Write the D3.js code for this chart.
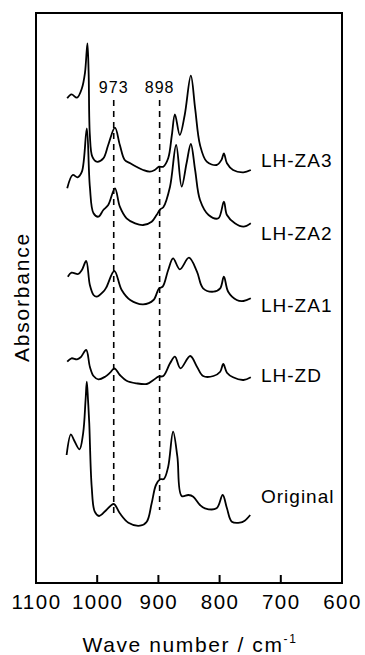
<!DOCTYPE html>
<html><head><meta charset="utf-8">
<script src="https://cdn.jsdelivr.net/npm/d3@7/dist/d3.min.js"></script>
<style>
html,body{margin:0;padding:0;background:#fff;}
svg{display:block;font-family:"Liberation Sans",Arial,Helvetica,sans-serif;}
</style></head>
<body><svg id="chart" width="365" height="655"></svg>
<script>
// x ticks (wave number, cm^-1)
const xTicks = [1100, 1000, 900, 800, 700, 600];
const markers = [973, 898];
const seriesNames = ["LH-ZA3", "LH-ZA2", "LH-ZA1", "LH-ZD", "Original"];
// [wave number, absorbance (arb. units, offset)]
const lhZA3 = [[1049,484.7],[1042,488.7],[1033,485.3],[1025,494.7],[1020,510],[1016,539.7],[1014,510],[1012,448],[1008,426.3],[1001,421.3],[990,424.7],[982,438],[971,455.3],[963,438],[955,423],[946,419.7],[936,416.3],[925,413],[914,411.3],[906,413],[899,416.3],[892,416.3],[884,424.7],[878,448],[873,468.7],[865,448],[857,468],[847,507.3],[840,474.7],[832,438],[821,421.3],[805,418],[797,423],[793,429.7],[788,419.7],[778,413],[761,410.7],[749,413]];
const lhZA2 = [[1049,394.7],[1040,408],[1032,405.7],[1025,411.3],[1017,454.7],[1012,396.3],[1006,369.7],[998,366.3],[990,373],[982,378],[971,394.7],[963,376.3],[952,364.7],[938,359.7],[925,358],[911,361.3],[903,368],[897,373.7],[892,375.7],[881,396.3],[871,438],[862,396.3],[854,419.7],[847,439],[840,413],[832,383],[818,368],[802,364.7],[793,381.3],[788,368],[775,359.7],[761,356.3],[749,359.7]];
const lhZA1 = [[1048,306.3],[1042,310.3],[1031,309],[1025,313],[1018,322],[1012,298],[1006,288],[1001,286.3],[990,291.3],[985,295.7],[972,312],[960,293],[946,283],[925,278.7],[908,283],[899,294.7],[893,296.3],[884,313],[876,324.7],[865,313.7],[850,325.3],[837,311.3],[827,294.7],[810,291.3],[799,294.7],[793,306.3],[786,291.3],[772,283],[761,282],[749,284.7]];
const lhZD = [[1049,221.3],[1042,224.7],[1033,223.7],[1027,225.7],[1018,233],[1012,216.3],[1006,207],[998,203.7],[987,206.3],[979,210.3],[972,214.7],[963,208],[952,202.3],[936,199.7],[919,199],[908,203],[900,206.3],[892,207],[881,219.7],[873,226.3],[864,214.7],[848,227],[837,216.3],[827,207],[810,207],[799,211.3],[794,219],[788,210.3],[778,205.7],[761,203],[749,205.7]];
const original = [[1050,128],[1043,148.7],[1038,143],[1029,133.7],[1023,149.7],[1019,183],[1017,201.3],[1015,183],[1013,160],[1009,96.3],[1004,71.3],[997,67],[985,73],[973,79],[963,69.7],[949,60.3],[930,57.3],[919,61.3],[911,79.7],[904,98],[897,103.7],[891,104],[884,116.3],[876,151.3],[869,126.3],[862,87],[851,88],[843,86.3],[832,78],[824,74.7],[805,74.7],[795,88],[788,74.7],[780,61.3],[767,60.3],[759,62.3],[750,68]];
const allSeries = [lhZA3, lhZA2, lhZA1, lhZD, original];
const labelLevels = [416, 343, 271, 201, 80];   // label baseline level (arb. units)
const markerLabelLevel = 490;
const markerTop = [483, 483];
const markerBottom = [65, 73];

const W = 365, H = 655;
const m = {left: 36, right: 23, top: 13, bottom: 72};
const svg = d3.select("#chart");
const x = d3.scaleLinear().domain([1100, 600]).range([m.left, W - m.right]);
const y = d3.scaleLinear().domain([0, 570]).range([H - m.bottom, m.top]);

// frame
svg.append("rect").attr("x", m.left).attr("y", m.top)
  .attr("width", W - m.left - m.right).attr("height", H - m.top - m.bottom)
  .attr("fill", "none").attr("stroke", "#000").attr("stroke-width", 2);

// x axis with inward ticks
const xAxis = d3.axisBottom(x).tickValues(xTicks).tickSize(0).tickFormat(d3.format("d"));
const gx = svg.append("g").attr("transform", `translate(0,${H - m.bottom})`).call(xAxis);
gx.select(".domain").remove();
gx.selectAll("text").attr("y", 0).attr("dy", "26px").attr("font-size", 20.5)
  .attr("letter-spacing", "1.5px").attr("fill", "#000")
  .attr("font-family", '"Liberation Sans",Arial,Helvetica,sans-serif');
svg.append("g").selectAll("line").data(xTicks.slice(1, -1)).join("line")
  .attr("x1", d => x(d)).attr("x2", d => x(d))
  .attr("y1", H - m.bottom).attr("y2", H - m.bottom - 8)
  .attr("stroke", "#000").attr("stroke-width", 2);

// axis titles
const xt = svg.append("text").attr("x", 190).attr("y", 652).attr("text-anchor", "middle")
  .attr("font-size", 21).attr("letter-spacing", "1.6px");
xt.append("tspan").text("Wave number / cm");
xt.append("tspan").attr("dy", -9).attr("font-size", 12).text("-1");
svg.append("text").attr("transform", "translate(29,297) rotate(-90)")
  .attr("text-anchor", "middle").attr("font-size", 21).attr("letter-spacing", "1.8px")
  .text("Absorbance");

// dashed marker lines
markers.forEach((mk, i) => {
  svg.append("line").attr("x1", x(mk)).attr("x2", x(mk))
    .attr("y1", y(markerTop[i])).attr("y2", y(markerBottom[i]))
    .attr("stroke", "#000").attr("stroke-width", 1.6).attr("stroke-dasharray", "6,5");
  svg.append("text").attr("x", x(mk)).attr("y", y(markerLabelLevel))
    .attr("text-anchor", "middle").attr("font-size", 16).attr("letter-spacing", "1px")
    .text(mk);
});

// spectra
const line = d3.line().x(d => x(d[0])).y(d => y(d[1])).curve(d3.curveCatmullRom.alpha(0.5));
svg.append("g").selectAll("path").data(allSeries).join("path")
  .attr("d", line).attr("fill", "none").attr("stroke", "#000")
  .attr("stroke-width", 1.8).attr("stroke-linejoin", "round");

// series labels
svg.append("g").selectAll("text").data(seriesNames).join("text")
  .attr("x", 261).attr("y", (d, i) => y(labelLevels[i]))
  .attr("font-size", 19).attr("letter-spacing", "1px").text(d => d);
</script></body></html>
